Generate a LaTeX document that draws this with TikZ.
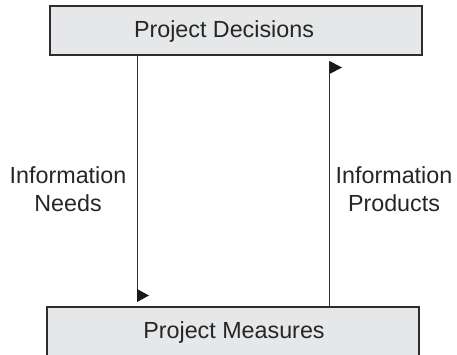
\documentclass[tikz,border=0pt]{standalone}
\usepackage{fontspec}
\setmainfont{Liberation Sans}
\usepackage{tikz}
\usetikzlibrary{arrows}

\definecolor{boxgray}{RGB}{230,231,232}
\definecolor{linegray}{RGB}{45,45,45}

\begin{document}
\begin{tikzpicture}[line cap=butt,line join=miter,x=1pt,y=-1pt,
    box/.style={draw=linegray,fill=boxgray,line width=1.3pt,inner sep=0pt},
    lbl/.style={font=\fontsize{23.3}{28}\selectfont,text=black!85,inner sep=0pt,align=center},
    link/.style={draw=linegray,line width=1pt},
    flag/.style={fill=black!90}]
                  \clip (0,0) rectangle (457,354);
                  \useasboundingbox (0,0) rectangle (457,354);
                  % boxes
                  \node[box,minimum width=372pt,minimum height=49pt] (dec) at (236,30.5) {};
                  \node[box,minimum width=372pt,minimum height=60pt] (meas) at (233,337) {};
                  \node[lbl] (dectext) at (224,31) {Project Decisions};
                  \node[lbl] (meastext) at (234,332) {Project Measures};
                  % side labels
                  \node[lbl] (needs) at (68,189) {Information\\[0pt]Needs};
                  \node[lbl] (prods) at (394,189) {Information\\[0pt]Products};
                  % connectors
                  \coordinate (needsend) at (137,302);
                  \coordinate (prodsend) at (329.5,61);
                  \draw[link] (dec.south -| needsend) -- (needsend);
                  \draw[link] (meas.north -| prodsend) -- (prodsend);
                  \fill[flag] (needsend) -- ++(0,-13) -- ++(12,6.5) -- cycle;
                  \fill[flag] (prodsend) -- ++(0,13) -- ++(12.5,-6.5) -- cycle;
              \end{tikzpicture}
\end{document}
